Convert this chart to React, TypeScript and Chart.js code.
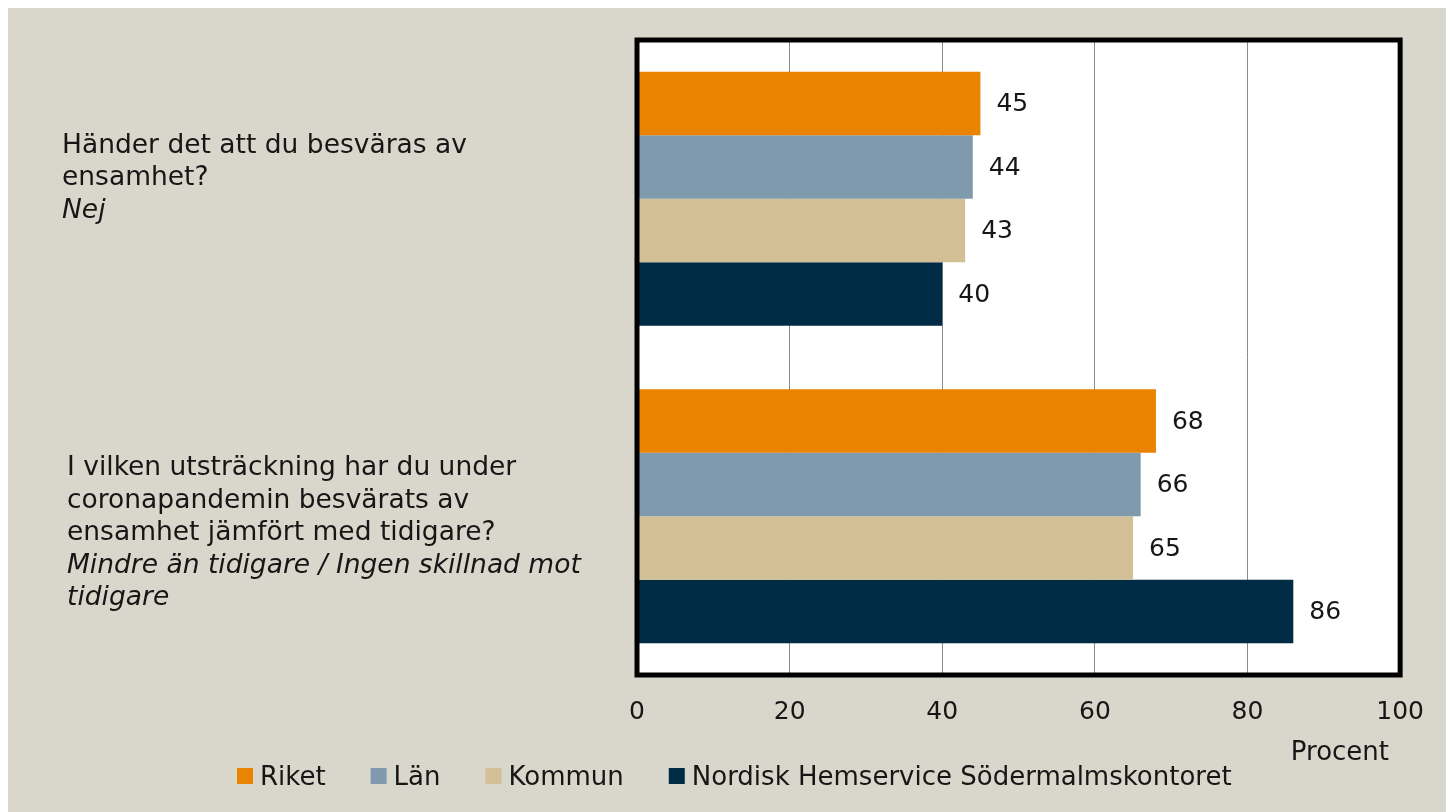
import React, { useEffect, useRef } from "react";
import { Chart, registerables } from "chart.js";
Chart.register(...registerables);

// ---- data ----
const questionLines = [
  ["Händer det att du besväras av", "ensamhet?"],
  ["I vilken utsträckning har du under", "coronapandemin besvärats av", "ensamhet jämfört med tidigare?"],
];
const answerLines = [["Nej"], ["Mindre än tidigare / Ingen skillnad mot", "tidigare"]];
const categories = ["Q1", "Q2"];
const seriesNames = ["Riket", "Län", "Kommun", "Nordisk Hemservice Södermalmskontoret"];
const riket = [45, 68];
const lan = [44, 66];
const kommun = [43, 65];
const nordisk = [40, 86];
const xTickValues = [0, 20, 40, 60, 80, 100];
const axisTitle = "Procent";

const colors = ["#E98300", "#7F9AAC", "#D3BF96", "#002B45"];
const BG = "#D9D7CB";
const TEXT = "#161616";
const FONT = '"DejaVu Sans", sans-serif';
const FS = 25;
const LABEL_FS = 26.5;
const LEGEND_FS = 26;

const decorPlugin = {
  id: "decor",
  beforeDraw(chart: any) {
    const { ctx, chartArea } = chart;
    ctx.save();
    ctx.fillStyle = "#ffffff";
    ctx.fillRect(chartArea.left, chartArea.top, chartArea.right - chartArea.left, chartArea.bottom - chartArea.top);
    ctx.restore();
  },
  afterDraw(chart: any) {
    const { ctx, chartArea } = chart;
    const yScale = chart.scales.y;
    ctx.save();
    // border
    ctx.strokeStyle = "#000000";
    ctx.lineWidth = 5;
    ctx.strokeRect(chartArea.left, chartArea.top, chartArea.right - chartArea.left, chartArea.bottom - chartArea.top);

    // value labels
    ctx.fillStyle = TEXT;
    ctx.font = `${FS}px ${FONT}`;
    ctx.textAlign = "left";
    ctx.textBaseline = "middle";
    chart.data.datasets.forEach((ds: any, di: number) => {
      const meta = chart.getDatasetMeta(di);
      meta.data.forEach((bar: any, i: number) => {
        ctx.fillText(String(ds.data[i]), bar.x + 16, bar.y + 1);
      });
    });

    // category labels
    const blockX = [54, 59];
    const blockOff = [-46, -41];
    const lh = 32.5;
    ctx.textBaseline = "alphabetic";
    categories.forEach((_, i) => {
      const cy = yScale.getPixelForValue(i);
      let y = cy + blockOff[i];
      ctx.font = `${LABEL_FS}px ${FONT}`;
      questionLines[i].forEach((line) => {
        ctx.fillText(line, blockX[i], y);
        y += lh;
      });
      ctx.font = `italic ${LABEL_FS}px ${FONT}`;
      answerLines[i].forEach((line) => {
        ctx.fillText(line, blockX[i], y);
        y += lh;
      });
    });

    // axis title
    ctx.font = `${LEGEND_FS}px ${FONT}`;
    ctx.textAlign = "right";
    ctx.fillText(axisTitle, 1381, 752);

    // legend
    ctx.textAlign = "left";
    let x = 229;
    chart.data.datasets.forEach((ds: any) => {
      ctx.fillStyle = ds.backgroundColor;
      ctx.fillRect(x, 760, 16, 16);
      x += 16 + 7;
      ctx.fillStyle = TEXT;
      ctx.fillText(ds.label, x, 777);
      x += ctx.measureText(ds.label).width + 45;
    });
    ctx.restore();
  },
};

export default function App() {
  const ref = useRef<HTMLCanvasElement | null>(null);
  useEffect(() => {
    const canvas = ref.current!;
    const series = [riket, lan, kommun, nordisk];
    const chart = new Chart(canvas, {
      type: "bar",
      data: {
        labels: categories,
        datasets: series.map((d, i) => ({
          label: seriesNames[i],
          data: d,
          backgroundColor: colors[i],
          borderWidth: 0,
          barPercentage: 1.0,
          categoryPercentage: 0.8,
        })),
      },
      options: {
        indexAxis: "y",
        animation: false,
        responsive: false,
        maintainAspectRatio: false,
        layout: { padding: { left: 629, right: 42, top: 32, bottom: 0 } },
        plugins: { legend: { display: false }, tooltip: { enabled: false } },
        scales: {
          y: { display: false },
          x: {
            min: 0,
            max: 100,
            afterBuildTicks: (scale: any) => {
              scale.ticks = xTickValues.map((v) => ({ value: v }));
            },
            afterFit: (scale: any) => {
              scale.height = 137;
            },
            border: { display: false },
            grid: { color: "#8A8A8A", lineWidth: 1, drawTicks: false },
            ticks: {
              padding: 22,
              color: TEXT,
              font: { family: FONT, size: FS },
              maxRotation: 0,
            },
          },
        },
      },
      plugins: [decorPlugin],
    } as any);
    return () => chart.destroy();
  }, []);
  return (
    <div
      style={{
        position: "fixed",
        left: 8,
        top: 8,
        right: 0,
        bottom: 0,
        background: BG,
        overflow: "hidden",
      }}
    >
      <canvas ref={ref} width={1438} height={804} style={{ display: "block" }} />
    </div>
  );
}
